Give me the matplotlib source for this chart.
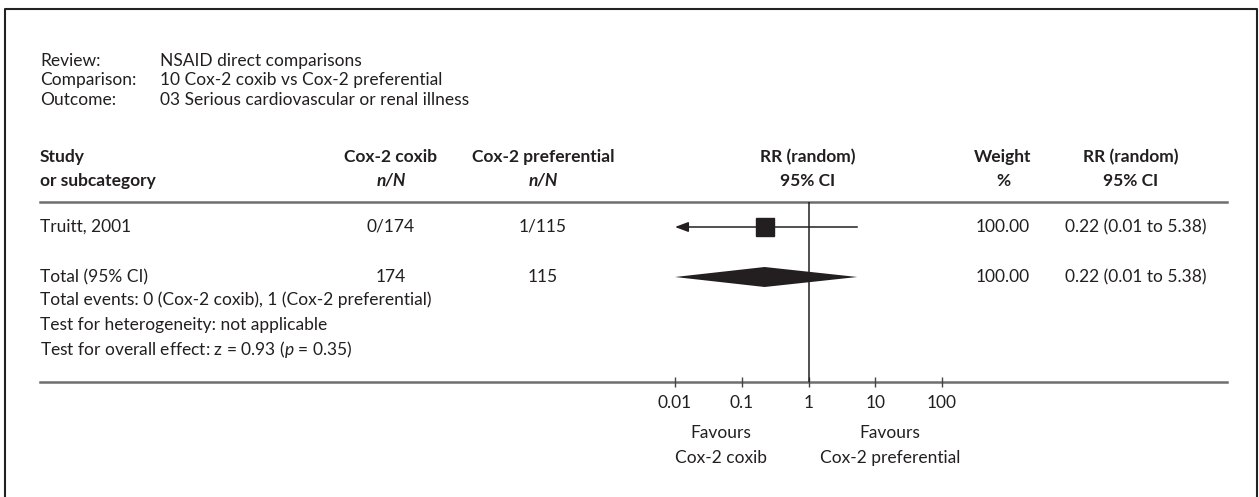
import numpy as np
import matplotlib
matplotlib.use("Agg")
import matplotlib.pyplot as plt

plt.rcParams['font.family'] = ['Lato', 'DejaVu Sans']
plt.rcParams['mathtext.fontset'] = 'custom'
plt.rcParams['mathtext.rm'] = 'Lato'
plt.rcParams['mathtext.it'] = 'Lato:italic'

# ---- data ----
review = "NSAID direct comparisons"
comparison = "10 Cox-2 coxib vs Cox-2 preferential"
outcome = "03 Serious cardiovascular or renal illness"
group1 = "Cox-2 coxib"
group2 = "Cox-2 preferential"

studies = ["Truitt, 2001"]
events1 = [0]
totals1 = [174]
events2 = [1]
totals2 = [115]
rr = [0.22]
rr_lo = [0.01]
rr_hi = [5.38]
weights = [100.00]

total_rr = 0.22
total_lo = 0.01
total_hi = 5.38
total_weight = 100.00
z_value = 0.93
p_value = 0.35

axis_ticks = [0.01, 0.1, 1, 10, 100]
axis_labels = ["0.01", "0.1", "1", "10", "100"]

# ---- layout (pixel rows / columns) ----
W, H = 1259, 497
txt = '#231f20'
rule = '#6d6e70'
fs = 12.5
left = 40
c1, c2, c_rr, c_w, c_ci = 391, 543, 808, 1003, 1136

fig = plt.figure(figsize=(W / 100, H / 100), dpi=100)
bg = fig.add_axes([0, 0, 1, 1])
bg.set_xlim(0, W)
bg.set_ylim(H, 0)
bg.axis('off')

# frame
bg.plot([5, 5, W - 2, W - 2], [H + 5, 9, 9, H + 5], color='#222222', lw=1.5)

# header block
for i, (lab, val) in enumerate([("Review:", review), ("Comparison:", comparison), ("Outcome:", outcome)]):
    y = 61 + i * 19.5
    bg.text(left, y, lab, fontsize=fs, color=txt, va='center')
    bg.text(160, y, val, fontsize=fs, color=txt, va='center')

# column headers
y1, y2 = 157, 181
hd = dict(fontsize=fs, fontweight='bold', color=txt, va='center')
bg.text(left, y1, "Study", **hd)
bg.text(left, y2, "or subcategory", **hd)
bg.text(c1, y1, group1, ha='center', **hd)
bg.text(c1, y2, "n/N", style='italic', ha='center', **hd)
bg.text(c2, y1, group2, ha='center', **hd)
bg.text(c2, y2, "n/N", style='italic', ha='center', **hd)
bg.text(c_rr, y1, "RR (random)", ha='center', **hd)
bg.text(c_rr, y2, "95% CI", ha='center', **hd)
bg.text(c_w, y1, "Weight", ha='center', **hd)
bg.text(c_w, y2, "%", ha='center', **hd)
bg.text(c_ci - 5, y1, "RR (random)", ha='center', **hd)
bg.text(c_ci - 5, y2, "95% CI", ha='center', **hd)

bg.plot([left, 1227], [202, 202], color=rule, lw=1.8)
bg.plot([left, 1227], [382, 382], color=rule, lw=1.8)

# study rows
row_y = [227]
nt = dict(fontsize=fs, color=txt, va='center')
for i, s in enumerate(studies):
    y = row_y[i]
    bg.text(left, y, s, **nt)
    bg.text(c1, y, f"{events1[i]}/{totals1[i]}", ha='center', **nt)
    bg.text(c2, y, f"{events2[i]}/{totals2[i]}", ha='center', **nt)
    bg.text(c_w, y, f"{weights[i]:.2f}", ha='center', **nt)
    bg.text(c_ci, y, f"{rr[i]:.2f} ({rr_lo[i]:.2f} to {rr_hi[i]:.2f})", ha='center', **nt)

# total row
ty = 277
bg.text(left, ty, "Total (95% CI)", **nt)
bg.text(c1, ty, str(sum(totals1)), ha='center', **nt)
bg.text(c2, ty, str(sum(totals2)), ha='center', **nt)
bg.text(c_w, ty, f"{total_weight:.2f}", ha='center', **nt)
bg.text(c_ci, ty, f"{total_rr:.2f} ({total_lo:.2f} to {total_hi:.2f})", ha='center', **nt)
bg.text(left, 300, f"Total events: {sum(events1)} ({group1}), {sum(events2)} ({group2})", **nt)
bg.text(left, 325, "Test for heterogeneity: not applicable", **nt)
bg.text(left, 350, f"Test for overall effect: z = {z_value:.2f} ($p$ = {p_value:.2f})", **nt)

# favours labels
bg.text(721, 433, "Favours", ha='center', **nt)
bg.text(721, 458, group1, ha='center', **nt)
bg.text(890, 433, "Favours", ha='center', **nt)
bg.text(890, 458, group2, ha='center', **nt)

# ---- forest axes ----
x0, x1, ytop, ybot = 675, 942, 202, 382
ax = fig.add_axes([x0 / W, (H - ybot) / H, (x1 - x0) / W, (ybot - ytop) / H])
ax.patch.set_alpha(0)
ax.set_xscale('log')
ax.set_xlim(0.01, 100)
ax.set_ylim(ybot, ytop)
for sp in ax.spines.values():
    sp.set_visible(False)
ax.set_yticks([])
ax.set_xticks(axis_ticks)
ax.set_xticklabels(axis_labels)
ax.minorticks_off()
ax.tick_params(axis='x', direction='inout', length=7, width=1, color='#444444',
               labelsize=fs, labelcolor=txt, pad=6)

ax.axvline(1, color=txt, lw=1.1)

for i in range(len(studies)):
    y = row_y[i]
    ax.annotate('', xy=(rr_lo[i], y), xytext=(rr_hi[i], y),
                arrowprops=dict(arrowstyle='-|>,head_length=0.8,head_width=0.3',
                                lw=1.1, color=txt, shrinkA=0, shrinkB=0))
    ax.plot(rr[i], y, marker='s', ms=13, color=txt, linestyle='none')

ax.fill([total_lo, total_rr, total_hi, total_rr], [ty, ty - 10, ty, ty + 10], color=txt, lw=0)

fig.savefig('out.png', dpi=100)
